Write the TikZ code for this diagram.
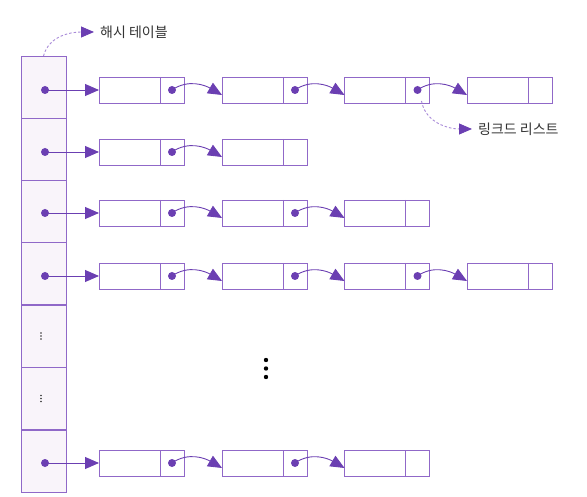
\documentclass[tikz,border=0pt]{standalone}
\usepackage{fontspec}
\newfontfamily\kr{Noto Sans CJK KR}
\usetikzlibrary{arrows.meta}
\definecolor{pline}{HTML}{9068C8}
\definecolor{pdark}{HTML}{6B3FB2}
\definecolor{pfill}{HTML}{F9F4FA}
\definecolor{pdash}{HTML}{A88AD8}
\tikzset{
  cellbox/.style={draw=pline, line width=0.9pt, fill=pfill, minimum width=45pt, minimum height=62pt, inner sep=0pt, outer sep=0pt},
  lnode/.style={draw=pline, line width=0.9pt, minimum width=85pt, minimum height=26pt, inner sep=0pt, outer sep=0pt,
    path picture={\draw[pline, line width=0.9pt] ([xshift=-24pt]path picture bounding box.north east) -- ([xshift=-24pt]path picture bounding box.south east);}},
  ptr/.style={-{Triangle[length=14pt,width=12pt,fill=pdark,color=pdark]}, draw=pdark, line width=0.9pt},
  dashptr/.style={-{Triangle[length=13pt,width=11pt,fill=pdark,color=pdark,sep=0pt]}, draw=pdash, line width=0.9pt, dash pattern=on 2.5pt off 2pt},
  lbl/.style={font=\kr\fontsize{14pt}{16pt}\selectfont, text=black!80, inner sep=0pt, anchor=west},
}
\begin{document}
\begin{tikzpicture}[x=1pt,y=-1pt]
\useasboundingbox (0,0) rectangle (587,497);
% table cells
\foreach \i/\y in {1/87,2/149,3/211,4/273.5,5/336,6/398.5,7/461}{
  \node[cellbox] (c\i) at (43.5,\y) {};
}
% rows of list nodes
\foreach \r/\y/\n in {1/90/4,2/152/2,3/213/3,4/276/4,7/463/3}{
  \foreach \k/\x in {1/141.5,2/264.5,3/387,4/509.5}{
    \ifnum\k>\n\else
      \node[lnode] (n\r\k) at (\x,\y) {};
    \fi
  }
  \coordinate (d\r) at (45,\y);
  \fill[pdark] (d\r) circle (4pt);
  \draw[ptr] (d\r) -- (n\r1.west);
}
% pointers between nodes
\foreach \r/\a/\b in {1/1/2,1/2/3,1/3/4,2/1/2,3/1/2,3/2/3,4/1/2,4/2/3,4/3/4,7/1/2,7/2/3}{
  \fill[pdark] ([xshift=-12pt]n\r\a.east) circle (4pt);
  \draw[ptr] ([xshift=-12pt]n\r\a.east) to[out=35,in=150] ([yshift=-5pt]n\r\b.west);
}
% small vertical dots in table cells
\foreach \i in {5,6}{
  \foreach \dy in {-3,0,3}{
    \fill[black!80] ([xshift=-2.5pt,yshift=\dy pt]c\i.center) circle (0.9pt);
  }
}
% big vertical ellipsis
\foreach \yy in {360,368.5,377}{
  \fill[black] (266,\yy) circle (2.2pt);
}
% labels
\node[lbl] (lh) at (100,32) {해시 테이블};
\node[lbl] (ll) at (478,129) {링크드 리스트};
\draw[dashptr] ([xshift=0pt]c1.north) to[out=75,in=180] ([xshift=-6pt]lh.west);
\draw[dashptr] ([xshift=-8pt,yshift=2pt]n13.south east) to[out=-80,in=180] ([xshift=-6pt]ll.west);
\end{tikzpicture}
\end{document}
